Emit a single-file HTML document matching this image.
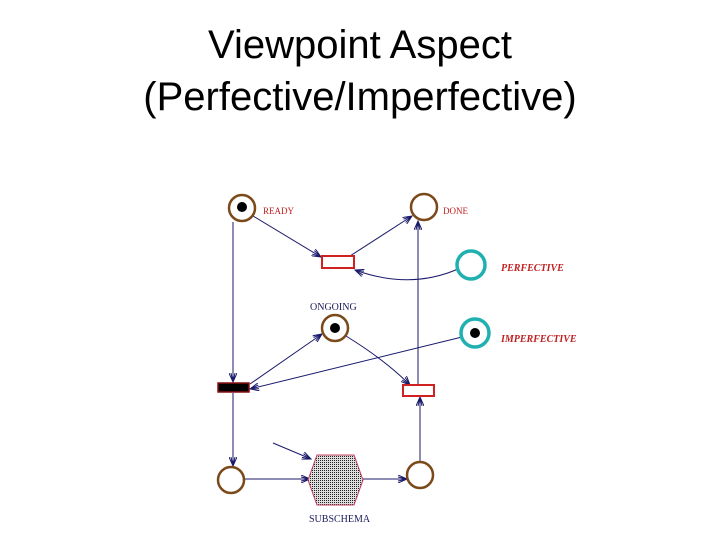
<!DOCTYPE html>
<html><head><style>
body{margin:0;width:720px;height:540px;background:#fff;overflow:hidden}
.t{position:absolute;left:0;width:720px;text-align:center;font-family:"Liberation Sans",sans-serif;font-size:40px;line-height:46px;color:#000}
</style></head><body>
<div class="t" style="top:22px">Viewpoint Aspect</div>
<div class="t" style="top:74px">(Perfective/Imperfective)</div>
<svg width="720" height="540" style="position:absolute;left:0;top:0">
<defs>
<marker id="a" markerWidth="10" markerHeight="8" refX="9" refY="4" orient="auto" markerUnits="userSpaceOnUse"><path d="M0,0 L9,4 L0,8 M0,2 L9,4 L0,6" fill="none" stroke="#1a1a6a" stroke-width="1"/></marker>
<pattern id="d" width="2" height="2" patternUnits="userSpaceOnUse"><rect width="2" height="2" fill="#ddd"/><rect width="1" height="1" fill="#222"/></pattern>
</defs>
<g stroke="#1a1a6a" stroke-width="1" fill="none" marker-end="url(#a)">
<path d="M253,216 L321,257"/>
<path d="M350,256 L412,216"/>
<path d="M458,269 Q410,290 355,270"/>
<path d="M233,222 L233,382"/>
<path d="M250,384 L322,334"/>
<path d="M346,336 Q385,360 410,385"/>
<path d="M462,337 L250,389"/>
<path d="M418,384 L418,221"/>
<path d="M233,393 L233,466"/>
<path d="M245,479 L310,479"/>
<path d="M273,443 L311,459"/>
<path d="M362,479 L407,479"/>
<path d="M420,462 L420,397"/>
</g>
<g fill="#fff" stroke="#7a4a1a" stroke-width="2.5">
<circle cx="242" cy="208" r="13"/><circle cx="424" cy="207" r="13"/>
<circle cx="335" cy="328" r="13"/><circle cx="231" cy="480" r="13"/>
<circle cx="420" cy="475" r="13"/>
</g>
<g fill="#fff" stroke="#20b0b0" stroke-width="3.5">
<circle cx="471" cy="265" r="14"/><circle cx="475" cy="333" r="14"/>
</g>
<g fill="#000"><circle cx="242" cy="207" r="5"/><circle cx="335" cy="328" r="5"/><circle cx="475" cy="333" r="5"/></g>
<rect x="322" y="256" width="32" height="12" fill="#fff" stroke="#d02020" stroke-width="2"/>
<rect x="403" y="385" width="31" height="11" fill="#fff" stroke="#d02020" stroke-width="2"/>
<rect x="218" y="383" width="31" height="9" fill="#000" stroke="#8a1010" stroke-width="1.5"/>
<polygon points="317,455 354,455 363,480 354,505 317,505 308,480" fill="url(#d)" stroke="#c04060" stroke-width="1"/>
<g font-family="Liberation Serif,serif" font-size="9" fill="#c02020">
<text x="263" y="214">READY</text><text x="443" y="214">DONE</text>
</g>
<g font-family="Liberation Serif,serif" font-size="10" font-weight="bold" font-style="italic" fill="#c02020">
<text x="501" y="271">PERFECTIVE</text><text x="501" y="342">IMPERFECTIVE</text>
</g>
<g font-family="Liberation Serif,serif" font-size="10" fill="#1a1a5a">
<text x="310" y="310">ONGOING</text><text x="309" y="522">SUBSCHEMA</text>
</g>
</svg>
</body></html>
